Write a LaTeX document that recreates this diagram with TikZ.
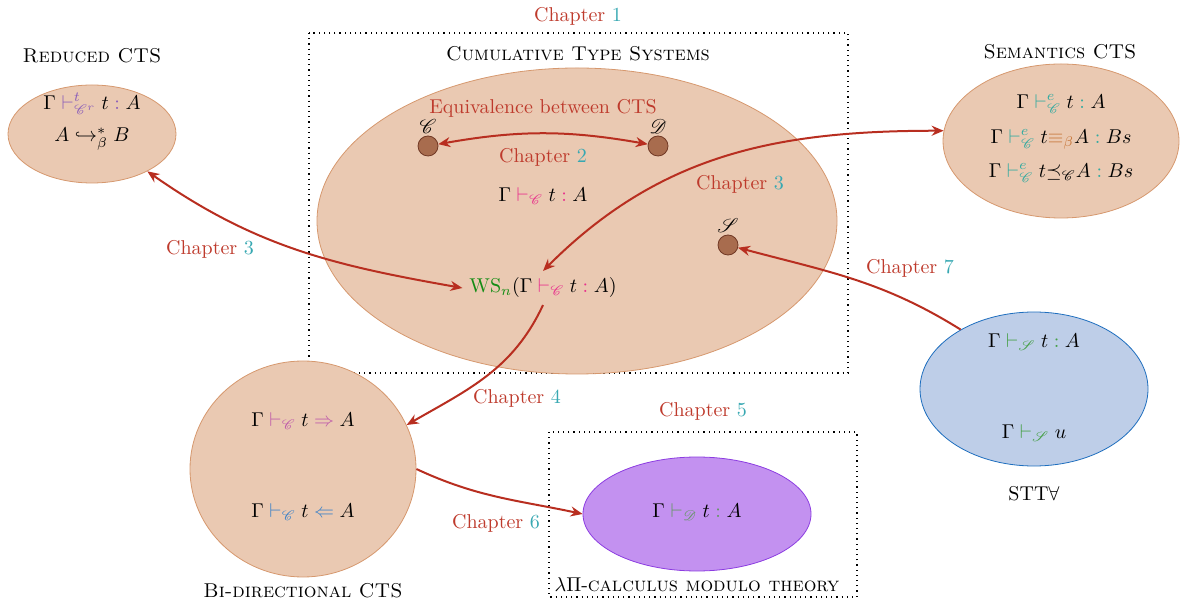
\documentclass[tikz,border=0pt]{standalone}
\usepackage{amssymb,amsmath}
\usepackage{mathrsfs}
\usetikzlibrary{shapes.geometric,arrows.meta}
\definecolor{chapred}{RGB}{190,58,44}
\definecolor{chapnum}{RGB}{55,168,178}
\definecolor{arrowred}{RGB}{184,46,32}
\definecolor{peach}{RGB}{234,201,178}
\definecolor{peachline}{RGB}{214,152,110}
\definecolor{lilac}{RGB}{195,145,240}
\definecolor{lilacline}{RGB}{140,60,225}
\definecolor{skyfill}{RGB}{190,206,232}
\definecolor{skyline}{RGB}{30,110,190}
\definecolor{pointfill}{RGB}{168,108,78}
\definecolor{pointline}{RGB}{112,56,36}
\definecolor{pinkturn}{RGB}{232,48,140}
\definecolor{violetturn}{RGB}{140,95,185}
\definecolor{tealturn}{RGB}{50,170,160}
\definecolor{betaorange}{RGB}{200,120,60}
\definecolor{inferpink}{RGB}{190,90,170}
\definecolor{checkblue}{RGB}{60,130,200}
\definecolor{dkgreen}{RGB}{100,150,100}
\definecolor{sttgreen}{RGB}{70,160,70}
\definecolor{wsgreen}{RGB}{20,140,20}
\newcommand{\chap}[1]{\textcolor{chapred}{Chapter \textcolor{chapnum}{#1}}}
\newcommand{\crel}[2]{\mathrel{\textcolor{#1}{#2}}}
\tikzset{blob/.style={shape=ellipse, fill=peach, draw=peachline, inner sep=0pt},
         judge/.style={inner sep=0.5pt},
         pointnode/.style={shape=circle, fill=pointfill, draw=pointline, inner sep=0pt, minimum size=10pt},
         chapline/.style={draw=arrowred, line width=1pt, -{Stealth[length=6pt,width=5pt]}},
         twoway/.style={draw=arrowred, line width=1pt, {Stealth[length=6pt,width=5pt]}-{Stealth[length=6pt,width=5pt]}},
         chapbox/.style={dotted, semithick}}
\begin{document}
\begin{tikzpicture}[x=0.5pt,y=-0.5pt]
\useasboundingbox (0,0) rectangle (1192,608);
% boxes
\draw[style=chapbox] (309,33) rectangle (848,373);
\draw[style=chapbox] (549,432) rectangle (857,597);
\node (ch1) at (578,16) {\chap{1}};
\node (ch5) at (703,411) {\chap{5}};
% ellipses
\node[style=blob, minimum width=260pt, minimum height=153pt] (cum) at (577,221) {};
\node[style=blob, minimum width=84pt, minimum height=49pt] (red) at (92,134) {};
\node[style=blob, minimum width=118pt, minimum height=77pt] (sem) at (1061,141) {};
\node[style=blob, minimum width=113pt, minimum height=108pt] (bi) at (303,469) {};
\node[style=blob, fill=lilac, draw=lilacline, minimum width=114pt, minimum height=57pt] (lp) at (697,514) {};
\node[style=blob, fill=skyfill, draw=skyline, minimum width=114pt, minimum height=77pt] (stt) at (1034,389) {};
% titles
\node (cumtitle) at (578,54) {\textsc{Cumulative Type Systems}};
\node (redtitle) at (92,56) {\textsc{Reduced CTS}};
\node (semtitle) at (1060,52) {\textsc{Semantics CTS}};
\node (bititle) at (303,591) {\textsc{Bi-directional CTS}};
\node (lptitle) at (697,585) {$\lambda\Pi$-\textsc{calculus modulo theory}};
\node (stttitle) at (1034,494) {STT$\forall$};
% judgements
\node[style=judge] (redA) at (92,104) {$\Gamma \crel{violetturn}{\vdash^{t}_{\mathscr{C}^r}} t \crel{violetturn}{:} A$};
\node[style=judge] (redB) at (92,139) {$A \hookrightarrow^{*}_{\beta} B$};
\node[style=judge] (semA) at (1061,104) {$\Gamma \crel{tealturn}{\vdash^{e}_{\mathscr{C}}} t \crel{tealturn}{:} A$};
\node[style=judge] (semB) at (1061,139) {$\Gamma \crel{tealturn}{\vdash^{e}_{\mathscr{C}}} t\textcolor{betaorange}{\equiv_{\beta}}A \crel{tealturn}{:} Bs$};
\node[style=judge] (semC) at (1061,173) {$\Gamma \crel{tealturn}{\vdash^{e}_{\mathscr{C}}} t{\preceq_{\mathscr{C}}}A \crel{tealturn}{:} Bs$};
\node (cts) at (543,196) {$\Gamma \crel{pinkturn}{\vdash_{\mathscr{C}}} t \crel{pinkturn}{:} A$};
\node (ws) at (543,288) {$\textcolor{wsgreen}{\mathrm{WS}_n}(\Gamma \crel{pinkturn}{\vdash_{\mathscr{C}}} t \crel{pinkturn}{:} A)$};
\node (inf) at (303,421) {$\Gamma \crel{inferpink}{\vdash_{\mathscr{C}}} t \crel{inferpink}{\Rightarrow} A$};
\node (chk) at (303,512) {$\Gamma \crel{checkblue}{\vdash_{\mathscr{C}}} t \crel{checkblue}{\Leftarrow} A$};
\node (lpj) at (697,512) {$\Gamma \crel{dkgreen}{\vdash_{\mathscr{D}}} t \crel{dkgreen}{:} A$};
\node (sttA) at (1034,342) {$\Gamma \crel{sttgreen}{\vdash_{\mathscr{S}}} t \crel{sttgreen}{:} A$};
\node (sttB) at (1034,433) {$\Gamma \crel{sttgreen}{\vdash_{\mathscr{S}}} u$};
% points
\node[style=pointnode, label={[inner sep=1pt]above:$\mathscr{C}$}] (C) at (428,146) {};
\node[style=pointnode, label={[inner sep=1pt]above:$\mathscr{D}$}] (D) at (658,146) {};
\node[style=pointnode, label={[inner sep=1pt]above:$\mathscr{S}$}] (S) at (728,245) {};
\node (equiv) at (543,108) {\textcolor{chapred}{Equivalence between CTS}};
\node (ch2) at (543,157) {\chap{2}};
% chapters
\draw[style=twoway] (C) to [bend left=10] (D);
\draw[style=twoway] (red.-34) to [out=-35,in=170] (ws.west);
\draw[style=twoway] (ws.north) to [out=45,in=180] (sem.175);
\draw[style=chapline] (stt.141) to [out=148,in=-15] (S);
\draw[style=chapline] (ws.south) to [out=-115,in=30] (bi.23);
\draw[style=chapline] (bi.east) to [out=-25,in=168] (lp.west);
\node (ch3l) at (210,249) {\chap{3}};
\node (ch3r) at (740,184) {\chap{3}};
\node (ch7) at (910,268) {\chap{7}};
\node (ch4) at (517,398) {\chap{4}};
\node (ch6) at (496,523) {\chap{6}};
\end{tikzpicture}
\end{document}
